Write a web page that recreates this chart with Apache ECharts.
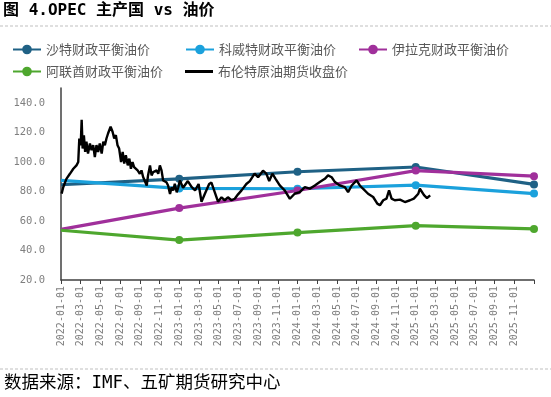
<!DOCTYPE html>
<html>
<head>
<meta charset="utf-8">
<script src="https://cdn.jsdelivr.net/npm/echarts@6/dist/echarts.min.js"></script>
<style>
  html, body { margin: 0; padding: 0; background: #fff; }
  #chart { width: 551px; height: 397px; }
</style>
</head>
<body>
<div id="chart"></div>
<script>
// fiscal break-even oil prices, one point per year
const fiscalDates = ["2022-01-01", "2023-01-01", "2024-01-01", "2025-01-01", "2026-01-01"];
const saudiValues = [84.5, 88.5, 93.3, 96.5, 84.7];
const kuwaitValues = [87.5, 82.0, 81.8, 84.2, 78.5];
const iraqValues = [54.3, 68.7, 80.6, 94.1, 90.3];
const uaeValues = [53.7, 47.0, 52.1, 56.8, 54.6];

// Brent futures close
const brentDates = [
  "2022-01-03", "2022-01-08", "2022-01-18", "2022-01-29", "2022-02-08", "2022-02-17", "2022-02-22", "2022-02-25",
  "2022-03-01", "2022-03-04", "2022-03-07", "2022-03-11", "2022-03-15", "2022-03-19", "2022-03-24", "2022-03-30",
  "2022-04-04", "2022-04-09", "2022-04-14", "2022-04-19", "2022-04-24", "2022-04-29", "2022-05-05", "2022-05-10",
  "2022-05-15", "2022-05-20", "2022-05-25", "2022-06-02", "2022-06-08", "2022-06-13", "2022-06-18", "2022-06-23",
  "2022-06-28", "2022-07-04", "2022-07-09", "2022-07-14", "2022-07-19", "2022-07-25", "2022-07-30", "2022-08-04",
  "2022-08-09", "2022-08-14", "2022-08-20", "2022-08-25", "2022-09-01", "2022-09-06", "2022-09-11", "2022-09-16",
  "2022-09-22", "2022-09-26", "2022-10-02", "2022-10-07", "2022-10-12", "2022-10-17", "2022-10-23", "2022-10-28",
  "2022-11-02", "2022-11-07", "2022-11-12", "2022-11-17", "2022-11-22", "2022-11-27", "2022-12-03", "2022-12-08",
  "2022-12-13", "2022-12-18", "2022-12-24", "2022-12-29", "2023-01-03", "2023-01-13", "2023-01-28", "2023-02-08",
  "2023-02-18", "2023-02-28", "2023-03-09", "2023-03-19", "2023-04-02", "2023-04-09", "2023-04-19", "2023-04-29",
  "2023-05-10", "2023-05-20", "2023-05-30", "2023-06-10", "2023-06-20", "2023-06-30", "2023-07-11", "2023-07-26",
  "2023-08-06", "2023-08-21", "2023-09-01", "2023-09-16", "2023-09-26", "2023-10-05", "2023-10-15", "2023-10-25",
  "2023-11-07", "2023-11-22", "2023-12-08", "2023-12-23", "2024-01-08", "2024-01-24", "2024-02-08", "2024-02-23",
  "2024-03-09", "2024-03-25", "2024-04-04", "2024-04-15", "2024-04-25", "2024-05-10", "2024-05-26", "2024-06-05",
  "2024-06-16", "2024-07-01", "2024-07-11", "2024-07-21", "2024-08-06", "2024-08-22", "2024-09-04", "2024-09-12",
  "2024-09-22", "2024-10-02", "2024-10-10", "2024-10-18", "2024-10-28", "2024-11-13", "2024-11-28", "2024-12-14",
  "2024-12-26", "2025-01-09", "2025-01-14", "2025-01-27", "2025-02-05", "2025-02-14"
];
const brentValues = [
  78.5, 82.8, 88.5, 91.9, 95.3, 97.6, 99.9, 115.8,
  111.3, 128.5, 109.0, 118.0, 106.7, 113.6, 105.6, 112.4,
  107.9, 111.3, 103.3, 111.3, 106.7, 112.4, 105.6, 113.6,
  111.3, 115.8, 119.2, 123.8, 120.4, 115.8, 118.1, 111.3,
  109.0, 99.9, 106.7, 98.8, 104.5, 97.6, 102.2, 95.3,
  99.9, 96.5, 97.6, 94.2, 91.9, 94.2, 89.7, 88.5,
  84.0, 90.8, 97.6, 90.8, 93.1, 91.9, 94.2, 91.9,
  97.6, 94.2, 87.4, 88.5, 86.2, 84.0, 78.3, 82.8,
  80.6, 85.1, 79.4, 82.8, 87.4, 82.5, 87.0, 83.0,
  80.7, 85.0, 73.0, 78.0, 85.0, 86.0, 79.5, 73.0,
  76.0, 74.0, 76.0, 74.0, 75.0, 78.0, 80.7, 85.0,
  87.0, 92.0, 89.6, 94.0, 92.0, 87.0, 92.0, 88.5,
  84.0, 80.7, 75.0, 78.4, 79.5, 82.9, 81.8, 84.0,
  86.3, 88.5, 90.8, 89.6, 86.3, 84.0, 82.9, 79.5,
  84.0, 87.4, 84.0, 81.8, 78.4, 76.2, 71.7, 70.6,
  74.0, 75.1, 80.7, 75.1, 74.0, 74.4, 72.8, 74.0,
  75.1, 78.4, 81.8, 77.5, 75.5, 77.3
];

const seriesNames = ["沙特财政平衡油价", "科威特财政平衡油价", "伊拉克财政平衡油价", "阿联酋财政平衡油价", "布伦特原油期货收盘价"];
const seriesColors = ["#1f6185", "#1ba1dc", "#a0309b", "#4ea72e", "#000000"];

// months since 2022-01 (fractional), so daily and yearly points share one axis
function monthIndex(dateText) {
  const parts = dateText.split("-").map(Number);
  const daysInMonth = new Date(parts[0], parts[1], 0).getDate();
  return (parts[0] - 2022) * 12 + (parts[1] - 1) + (parts[2] - 1) / daysInMonth;
}

function pairUp(dates, values) {
  return dates.map((d, i) => [monthIndex(d), values[i]]);
}

function fiscalSeries(index, values) {
  // the reference shows no marker on the first (axis-edge) point
  const data = pairUp(fiscalDates, values).map((p, i) => (i === 0 ? { value: p, symbol: "none" } : p));
  return {
    name: seriesNames[index],
    type: "line",
    data,
    symbol: "circle",
    symbolSize: 8,
    lineStyle: { width: 3.2, color: seriesColors[index] },
    itemStyle: { color: seriesColors[index] },
    z: 2
  };
}

function legendAt(name, left, top, extra) {
  return Object.assign({
    data: [name],
    left,
    top,
    padding: 0,
    itemWidth: 28,
    itemHeight: 12,
    itemGap: 0,
    textStyle: { color: "#595959", fontSize: 13, fontFamily: "Noto Sans CJK SC" }
  }, extra || {});
}

const chart = echarts.init(document.getElementById("chart"), null, { renderer: "canvas" });

chart.setOption({
  animation: false,
  backgroundColor: "#fff",
  title: {
    text: "图 4.OPEC 主产国 vs 油价",
    left: 3,
    top: 3,
    padding: 0,
    textStyle: { fontSize: 16, fontWeight: "bold", color: "#000", fontFamily: "'DejaVu Sans Mono', 'Noto Sans CJK SC'" }
  },
  legend: [
    legendAt(seriesNames[0], 12, 43),
    legendAt(seriesNames[1], 185, 43),
    legendAt(seriesNames[2], 358, 43),
    legendAt(seriesNames[3], 12, 65),
    legendAt(seriesNames[4], 185, 65, { icon: "rect", itemHeight: 3 })
  ],
  graphic: [
    {
      type: "line",
      shape: { x1: 0, y1: 26, x2: 551, y2: 26 },
      style: { stroke: "#bfbfbf", lineWidth: 1, lineDash: [3, 2] }
    },
    {
      type: "line",
      shape: { x1: 0, y1: 369, x2: 551, y2: 369 },
      style: { stroke: "#bfbfbf", lineWidth: 1, lineDash: [3, 2] }
    },
    {
      type: "text",
      left: 4,
      top: 375,
      style: {
        text: "数据来源：IMF、五矿期货研究中心",
        fill: "#000",
        fontSize: 17.5,
        fontFamily: "'DejaVu Sans Mono', 'Noto Sans CJK SC'"
      }
    }
  ],
  grid: { left: 61, right: 17, top: 88, bottom: 117, containLabel: false },
  xAxis: {
    type: "value",
    min: 0,
    max: 48,
    interval: 2,
    axisLine: { show: true, lineStyle: { color: "#404040", width: 1.5 } },
    axisTick: { show: true, length: 4, lineStyle: { color: "#404040" } },
    splitLine: { show: false },
    axisLabel: {
      rotate: 90,
      margin: 6,
      color: "#7f7f7f",
      fontSize: 10,
      fontFamily: "DejaVu Sans Mono",
      formatter: (v) => {
        if (v >= 48) return "";
        const year = 2022 + Math.floor(v / 12);
        const month = (v % 12) + 1;
        return year + "-" + String(month).padStart(2, "0") + "-01";
      }
    }
  },
  yAxis: {
    type: "value",
    min: 20,
    max: 150,
    interval: 20,
    axisLine: { show: true, lineStyle: { color: "#404040", width: 1.5 } },
    axisTick: { show: false },
    splitLine: { show: false },
    axisLabel: {
      margin: 16,
      color: "#7f7f7f",
      fontSize: 10.5,
      fontFamily: "DejaVu Sans Mono",
      formatter: (v) => (v > 140 ? "" : v.toFixed(1))
    }
  },
  series: [
    fiscalSeries(0, saudiValues),
    fiscalSeries(1, kuwaitValues),
    fiscalSeries(2, iraqValues),
    fiscalSeries(3, uaeValues),
    {
      name: seriesNames[4],
      type: "line",
      data: pairUp(brentDates, brentValues),
      showSymbol: false,
      symbol: "none",
      lineStyle: { width: 2.4, color: "#000" },
      itemStyle: { color: "#000" },
      z: 3
    }
  ]
});
</script>
</body>
</html>
